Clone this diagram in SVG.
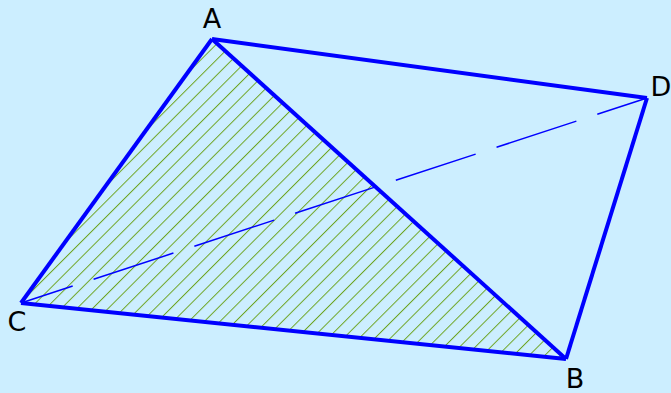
<svg xmlns="http://www.w3.org/2000/svg" width="671" height="393" viewBox="0 0 671 393">
<defs>
<pattern id="hatch" patternUnits="userSpaceOnUse" width="11.03" height="10" patternTransform="rotate(45)">
<line x1="7.85" y1="-1" x2="7.85" y2="11" stroke="#6ea524" stroke-width="1"/>
</pattern>
<style>
.edge{stroke:#0000ff;stroke-width:4;stroke-linecap:butt;fill:none}
.hidden{stroke:#0000ff;stroke-width:1.5;fill:none;stroke-dasharray:84 22;stroke-dashoffset:29.6}
.lbl{font-family:"DejaVu Sans",sans-serif;font-size:27px;fill:#000;text-anchor:middle}
</style>
</defs>
<rect width="671" height="393" fill="#cceeff"/>
<g id="face-ACB">
<polygon points="212,39 21,303 566,359" fill="url(#hatch)"/>
</g>
<g id="connectors">
<line class="hidden" x1="21" y1="303" x2="647" y2="98"/>
<line class="edge" x1="212" y1="39" x2="566" y2="359"/>
<line class="edge" x1="212" y1="39" x2="21" y2="303"/>
<line class="edge" x1="212" y1="39" x2="647" y2="98"/>
<line class="edge" x1="647" y1="98" x2="566" y2="359"/>
<line class="edge" x1="21" y1="303" x2="566" y2="359"/>
</g>
<g id="node-A"><text class="lbl" x="212" y="28">A</text></g>
<g id="node-B"><text class="lbl" x="575" y="388">B</text></g>
<g id="node-C"><text class="lbl" x="17" y="331">C</text></g>
<g id="node-D"><text class="lbl" x="661" y="96">D</text></g>
</svg>
